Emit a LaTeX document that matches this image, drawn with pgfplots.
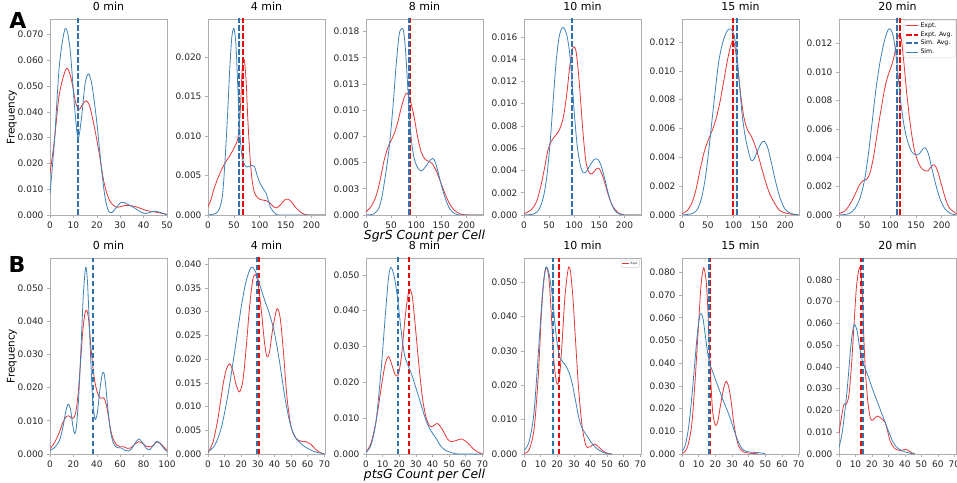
\documentclass[border=0pt]{standalone}
\usepackage{fontspec}
\setmainfont{DejaVu Sans}
\usepackage{pgfplots}
\pgfplotsset{compat=1.18}
\definecolor{simc}{RGB}{62,130,186}
\definecolor{simavg}{RGB}{50,115,175}
\definecolor{exptc}{RGB}{228,55,55}
\definecolor{exptavg}{RGB}{235,10,10}
\definecolor{framec}{RGB}{175,175,175}
\pgfplotsset{
 panel/.style={scale only axis, width=117pt, height=196pt, anchor=south west, xmin=0, ymin=0,
   axis line style={framec, line width=0.8pt},
   every tick/.style={framec, line width=0.6pt},
   tick align=outside, tick pos=left, major tick length=3pt,
   tick label style={font=\fontsize{9}{10}\selectfont, color=black!85},
   yticklabel style={/pgf/number format/.cd, fixed, fixed zerofill, precision=3},
   xticklabel style={/pgf/number format/.cd, fixed, precision=0},
   /pgf/number format/assume math mode=true,
   scaled y ticks=false, scaled x ticks=false,
   title style={font=\fontsize{11}{12}\selectfont, at={(0.5,1)}, anchor=south, inner sep=0pt, yshift=2.5pt},
   label style={font=\fontsize{10.5}{12}\selectfont},
   ylabel shift=-6pt,
   xlabel style={font=\itshape\fontsize{12.4}{14}\selectfont, at={(axis description cs:0.5,0)}, anchor=north, inner sep=0pt, yshift=-15pt},
 },
 expt/.style={exptc, line width=0.8pt, smooth, tension=0.5, no marks},
 sim/.style={simc, line width=0.8pt, smooth, tension=0.5, no marks},
 eavg/.style={exptavg, line width=2pt, dash pattern=on 5.5pt off 2.5pt, no marks},
 savg/.style={simavg, line width=2pt, dash pattern=on 5.5pt off 2.5pt, no marks},
}
\begin{document}
\begin{tikzpicture}
\useasboundingbox (0,0) rectangle (957pt,482pt);
\node[font=\bfseries\fontsize{22}{24}\selectfont] at (18pt,462pt) {A};
\node[font=\bfseries\fontsize{22}{24}\selectfont] at (17pt,218pt) {B};
% ---------------- Row A ----------------
\begin{axis}[panel, at={(50pt,267pt)}, title={0 min}, ylabel={Frequency}, xmax=50, ymax=0.076,
  xtick={0,10,20,30,40,50}, ytick={0,0.01,0.02,0.03,0.04,0.05,0.06,0.07}]
\addplot[expt] coordinates {(0,0.016) (2,0.03) (4,0.047) (7,0.0568) (9,0.053) (11,0.0435) (12.5,0.041) (14,0.043) (15.5,0.0443) (17,0.042) (19,0.034) (21,0.024) (23,0.013) (25,0.0065) (27,0.0038) (29,0.003) (32,0.0037) (35,0.0036) (38,0.0028) (41,0.0018) (44,0.0013) (47,0.0008) (50,0.0002)};
\addplot[eavg] coordinates {(11.8,0) (11.8,0.08)};
\addplot[savg] coordinates {(12,0) (12,0.08)};
\addplot[sim] coordinates {(0,0.008) (2,0.03) (4,0.058) (6.5,0.0723) (8.5,0.065) (10.5,0.042) (12,0.0297) (13.5,0.038) (15,0.051) (16.5,0.0547) (18,0.05) (20,0.036) (22,0.018) (23.5,0.007) (25,0.0015) (26.5,0.001) (28,0.0025) (30.5,0.005) (33,0.0042) (36,0.0028) (39,0.001) (41,0.0006) (43,0.0011) (45,0.0015) (47,0.001) (50,0.0001)};
\end{axis}
\begin{axis}[panel, at={(208pt,267pt)}, title={4 min}, xmax=226, ymax=0.0248,
  xtick={0,50,100,150,200}, ytick={0,0.005,0.01,0.015,0.02}]
\addplot[expt] coordinates {(0,0.001) (6,0.002) (12,0.0034) (20,0.0048) (28,0.006) (36,0.0069) (44,0.0077) (52,0.0087) (57,0.0095) (60,0.011) (63,0.014) (66,0.0185) (68.5,0.0198) (71,0.0192) (74,0.0165) (77,0.012) (81,0.0075) (85,0.0045) (90,0.0028) (97,0.0021) (105,0.0019) (113,0.0018) (120,0.0015) (127,0.001) (133,0.0009) (140,0.0013) (148,0.0019) (155,0.002) (162,0.0016) (170,0.0009) (178,0.0004) (186,0.0001) (195,0) (226,0)};
\addplot[eavg] coordinates {(67,0) (67,0.03)};
\addplot[savg] coordinates {(60.5,0) (60.5,0.03)};
\addplot[sim] coordinates {(0,0) (15,0.0002) (22,0.0008) (28,0.0025) (33,0.007) (38,0.013) (42,0.0185) (46,0.0225) (50,0.0236) (54,0.0215) (58,0.0155) (62,0.01) (66,0.0073) (72,0.0062) (78,0.0061) (85,0.0063) (90,0.0061) (95,0.005) (100,0.0041) (107,0.0033) (112,0.0028) (117,0.0017) (122,0.0008) (130,0.0002) (140,0) (226,0)};
\end{axis}
\begin{axis}[panel, at={(366pt,267pt)}, title={8 min}, xlabel={SgrS Count per Cell},
  xmax=233, ymax=0.0187,
  xtick={0,50,100,150,200}, ytick={0,0.0025,0.005,0.0075,0.01,0.0125,0.015,0.0175},
  yticklabels={0.000,0.003,0.005,0.007,0.010,0.013,0.015,0.018}]
\addplot[expt] coordinates {(0,0.0003) (10,0.0008) (20,0.0018) (28,0.0033) (36,0.0052) (44,0.0065) (52,0.0073) (58,0.008) (64,0.009) (70,0.0102) (76,0.0112) (80,0.0116) (84,0.0115) (90,0.0106) (96,0.0093) (103,0.0074) (110,0.006) (118,0.0053) (126,0.0051) (132,0.0049) (140,0.0042) (148,0.0032) (156,0.0022) (165,0.0012) (175,0.0005) (188,0.0001) (205,0) (233,0)};
\addplot[eavg] coordinates {(88.5,0) (88.5,0.02)};
\addplot[savg] coordinates {(85,0) (85,0.02)};
\addplot[sim] coordinates {(0,0) (15,0.0001) (25,0.0006) (32,0.0018) (40,0.0042) (47,0.0068) (54,0.0105) (60,0.0143) (66,0.0172) (71,0.0178) (75,0.0175) (79,0.0155) (83,0.0123) (87,0.009) (92,0.0065) (97,0.0052) (103,0.0045) (110,0.0042) (117,0.0045) (124,0.005) (133,0.0054) (139,0.0049) (145,0.0038) (152,0.0025) (160,0.0013) (168,0.0005) (178,0.0001) (190,0) (233,0)};
\end{axis}
\begin{axis}[panel, at={(524pt,267pt)}, title={10 min}, xmax=233, ymax=0.0176,
  xtick={0,50,100,150,200}, ytick={0,0.002,0.004,0.006,0.008,0.01,0.012,0.014,0.016}]
\addplot[expt] coordinates {(0,0.0001) (15,0.0005) (25,0.0012) (33,0.0025) (40,0.004) (47,0.0057) (54,0.0066) (62,0.0071) (70,0.0076) (78,0.0087) (85,0.0108) (91,0.0133) (96,0.0148) (100,0.0151) (104,0.0146) (109,0.0125) (114,0.0095) (119,0.0066) (124,0.0046) (130,0.0038) (136,0.0037) (143,0.0041) (149,0.0042) (155,0.0037) (162,0.0027) (170,0.0015) (178,0.0007) (188,0.0002) (200,0) (233,0)};
\addplot[eavg] coordinates {(96,0) (96,0.02)};
\addplot[savg] coordinates {(95,0) (95,0.02)};
\addplot[sim] coordinates {(0,0) (20,0.0001) (30,0.0005) (38,0.0015) (45,0.0033) (52,0.0065) (58,0.0102) (64,0.0138) (70,0.016) (76,0.0168) (81,0.0167) (86,0.016) (91,0.0145) (96,0.0118) (101,0.0087) (106,0.0062) (112,0.0045) (118,0.0038) (124,0.0039) (132,0.0045) (140,0.005) (147,0.005) (153,0.0045) (160,0.0034) (168,0.0019) (176,0.0008) (185,0.0002) (200,0) (233,0)};
\end{axis}
\begin{axis}[panel, at={(682pt,267pt)}, title={15 min}, xmax=227, ymax=0.0136,
  xtick={0,50,100,150,200}, ytick={0,0.002,0.004,0.006,0.008,0.01,0.012}]
\addplot[expt] coordinates {(0,0.0001) (10,0.0003) (20,0.0009) (28,0.0019) (36,0.0033) (44,0.0045) (52,0.0053) (60,0.006) (67,0.0068) (74,0.0079) (81,0.0093) (88,0.0107) (94,0.0117) (99,0.0121) (103,0.0116) (108,0.0102) (114,0.0083) (120,0.0068) (127,0.0059) (134,0.0055) (141,0.0049) (148,0.0041) (155,0.0032) (163,0.0022) (171,0.0014) (180,0.0008) (190,0.0003) (205,0.0001) (227,0)};
\addplot[eavg] coordinates {(99.5,0) (99.5,0.02)};
\addplot[savg] coordinates {(106.5,0) (106.5,0.02)};
\addplot[sim] coordinates {(0,0) (20,0.0001) (30,0.0004) (38,0.0012) (45,0.0025) (52,0.0045) (58,0.0065) (65,0.0088) (72,0.0108) (80,0.0121) (88,0.0128) (95,0.0129) (101,0.0125) (106,0.0113) (111,0.0093) (116,0.0072) (121,0.0058) (127,0.0047) (134,0.0038) (140,0.0039) (147,0.0045) (154,0.005) (160,0.0051) (166,0.0047) (173,0.0037) (181,0.0024) (190,0.0012) (200,0.0004) (212,0.0001) (227,0)};
\end{axis}
\begin{axis}[panel, at={(839pt,267pt)}, title={20 min}, xmax=228, ymax=0.0137,
  xtick={0,50,100,150,200}, ytick={0,0.002,0.004,0.006,0.008,0.01,0.012},
  legend style={at={(0.995,0.995)}, anchor=north east, font=\fontsize{6.2}{7.4}\selectfont,
    draw=gray!35, fill=white, fill opacity=0.8, text opacity=1, rounded corners=1.5pt,
    inner sep=1.4pt, nodes={inner sep=1.3pt}},
  legend cell align=left,
  legend image code/.code={\draw[#1] (0pt,0pt) -- (12pt,0pt);}]
\addplot[expt] coordinates {(0,0.0001) (12,0.0003) (22,0.0008) (32,0.0015) (40,0.0021) (47,0.0024) (54,0.0025) (60,0.0029) (67,0.004) (74,0.0056) (82,0.0074) (90,0.009) (96,0.0098) (102,0.0104) (108,0.0112) (113,0.0122) (117,0.0126) (121,0.0124) (126,0.0108) (132,0.0085) (139,0.0063) (146,0.0047) (153,0.0038) (160,0.0033) (167,0.0031) (174,0.0031) (180,0.0034) (186,0.0035) (192,0.0031) (199,0.0022) (207,0.0012) (215,0.0005) (228,0.0001)};
\addlegendentry{Expt.}
\addplot[eavg] coordinates {(118,0) (118,0.02)};
\addlegendentry{Expt. Avg.}
\addplot[savg] coordinates {(113,0) (113,0.02)};
\addlegendentry{Sim. Avg.}
\addplot[sim] coordinates {(0,0) (20,0.0001) (32,0.0005) (42,0.0013) (50,0.0025) (57,0.0042) (64,0.0063) (72,0.0088) (80,0.0107) (88,0.0121) (95,0.0129) (100,0.013) (105,0.0126) (110,0.0115) (115,0.0098) (121,0.0077) (128,0.006) (135,0.005) (142,0.0044) (150,0.0042) (157,0.0043) (163,0.0046) (168,0.0047) (174,0.0043) (180,0.0034) (188,0.0022) (197,0.0011) (207,0.0004) (218,0.0001) (228,0)};
\addlegendentry{Sim.}
\end{axis}
% ---------------- Row B ----------------
\begin{axis}[panel, at={(50pt,28pt)}, title={0 min}, ylabel={Frequency}, xmax=100, ymax=0.059,
  xtick={0,20,40,60,80,100}, ytick={0,0.01,0.02,0.03,0.04,0.05}]
\addplot[expt] coordinates {(0,0.0015) (4,0.0035) (8,0.0065) (11,0.0095) (14,0.0113) (16,0.0115) (18,0.011) (20,0.0108) (22,0.0125) (24,0.018) (26,0.027) (28,0.037) (30,0.0425) (31.5,0.0432) (33,0.0405) (35,0.032) (37,0.025) (39,0.0205) (41,0.018) (43,0.0168) (46,0.0169) (48,0.015) (50,0.0112) (52,0.007) (54,0.0045) (57,0.0027) (60,0.0022) (63,0.0022) (66,0.0017) (69,0.0018) (72,0.0028) (76,0.0037) (79,0.0032) (82,0.0024) (86,0.0022) (89,0.0028) (91,0.0036) (94,0.0033) (97,0.0022) (100,0.0011)};
\addplot[eavg] coordinates {(37,0) (37,0.07)};
\addplot[savg] coordinates {(36.7,0) (36.7,0.07)};
\addplot[sim] coordinates {(0,0.001) (4,0.002) (8,0.004) (11,0.008) (13.5,0.0128) (15.5,0.015) (17.5,0.0135) (19.5,0.0085) (21,0.0062) (22.5,0.008) (24.5,0.017) (26.5,0.032) (28.5,0.048) (30.5,0.0562) (32,0.052) (33.5,0.04) (35,0.027) (36.5,0.016) (38.5,0.0105) (40.5,0.0125) (42.5,0.019) (44.5,0.0238) (46,0.0245) (47.5,0.021) (49.5,0.0135) (52,0.0062) (55,0.0027) (58,0.0019) (61,0.0018) (64,0.0011) (67,0.0009) (70,0.0017) (73,0.0034) (76,0.0045) (79,0.0035) (82,0.0018) (85,0.0013) (88,0.0024) (91,0.0038) (94,0.0032) (97,0.0018) (100,0.0007)};
\end{axis}
\begin{axis}[panel, at={(208pt,28pt)}, title={4 min}, xmax=70.4, ymax=0.0413,
  xtick={0,10,20,30,40,50,60,70}, ytick={0,0.005,0.01,0.015,0.02,0.025,0.03,0.035,0.04}]
\addplot[expt] coordinates {(0,0.0003) (3,0.0025) (6,0.0075) (9,0.0145) (11,0.0178) (13,0.019) (15,0.0175) (17,0.0145) (19,0.0131) (21,0.0155) (23,0.0225) (25,0.031) (27,0.0368) (28.5,0.0378) (30,0.0362) (32,0.0305) (34,0.0235) (35.5,0.0205) (37,0.0215) (39,0.0265) (41.5,0.0306) (43.5,0.0285) (45.5,0.021) (47.5,0.012) (50,0.0057) (53,0.0033) (56,0.0027) (59,0.0026) (62,0.002) (65,0.0009) (68,0.0002) (70,0)};
\addplot[eavg] coordinates {(30.4,0) (30.4,0.05)};
\addplot[savg] coordinates {(29.4,0) (29.4,0.05)};
\addplot[sim] coordinates {(0,0.0005) (4,0.0018) (8,0.0055) (12,0.0125) (16,0.0215) (20,0.031) (23,0.0365) (26,0.0393) (28.5,0.0385) (31,0.0358) (34,0.0325) (37,0.0295) (40,0.0255) (43,0.0195) (46,0.0125) (49,0.007) (52,0.0038) (55,0.0025) (58,0.0016) (62,0.0008) (66,0.0003) (70,0.0001)};
\end{axis}
\begin{axis}[panel, at={(366pt,28pt)}, title={8 min}, xlabel={ptsG Count per Cell},
  xmax=70.4, ymax=0.0547,
  xtick={0,10,20,30,40,50,60,70}, ytick={0,0.01,0.02,0.03,0.04,0.05}]
\addplot[expt] coordinates {(0,0.0005) (3,0.003) (6,0.009) (9,0.018) (11.5,0.025) (13.5,0.0272) (15.5,0.025) (17.5,0.0222) (19.5,0.0222) (21.5,0.028) (23.5,0.038) (25.5,0.045) (26.5,0.046) (28,0.0435) (30,0.034) (32,0.024) (34,0.0155) (36,0.0105) (38,0.008) (40,0.0077) (43,0.0085) (46,0.0068) (49,0.0042) (51,0.0035) (54,0.0037) (57.5,0.0042) (61,0.0032) (64,0.0017) (67,0.0006) (70,0.0001)};
\addplot[eavg] coordinates {(25.7,0) (25.7,0.06)};
\addplot[savg] coordinates {(19.5,0) (19.5,0.06)};
\addplot[sim] coordinates {(0,0.0005) (3,0.0025) (6,0.009) (9,0.023) (11.5,0.038) (13.5,0.049) (15,0.0521) (17,0.0495) (19,0.0435) (21,0.035) (23,0.028) (25,0.025) (27,0.0228) (30,0.0185) (33,0.014) (36,0.0095) (39,0.0065) (42,0.0045) (45,0.0022) (48,0.001) (52,0.0003) (56,0) (70,0)};
\end{axis}
\begin{axis}[panel, at={(524pt,28pt)}, title={10 min}, xmax=70.4, ymax=0.057,
  xtick={0,10,20,30,40,50,60,70}, ytick={0,0.01,0.02,0.03,0.04,0.05},
  legend style={at={(0.99,0.99)}, anchor=north east, font=\fontsize{2.8}{3.4}\selectfont,
    draw=gray!35, fill=white, fill opacity=0.8, text opacity=1, rounded corners=0.8pt,
    inner sep=1pt, nodes={inner sep=0.8pt}},
  legend image code/.code={\draw[#1] (0pt,0pt) -- (7pt,0pt);}]
\addplot[expt] coordinates {(0,0.0002) (3,0.0012) (6,0.007) (8.5,0.022) (10.5,0.041) (12,0.051) (13.5,0.0542) (15,0.051) (16.5,0.04) (18,0.027) (19.5,0.021) (20.5,0.0205) (21.5,0.023) (23,0.033) (24.5,0.045) (26,0.052) (27,0.0544) (28,0.053) (29.5,0.045) (31,0.033) (33,0.018) (35,0.008) (37,0.0028) (38.5,0.0019) (40,0.0022) (42.5,0.0029) (45,0.002) (48,0.0007) (51,0.0001) (53,0)};
\addlegendentry{Expt.}
\addplot[eavg, forget plot] coordinates {(21,0) (21,0.06)};
\addplot[savg, forget plot] coordinates {(17.3,0) (17.3,0.06)};
\addplot[sim, forget plot] coordinates {(0,0.001) (3,0.0035) (6,0.012) (9,0.032) (11,0.046) (13,0.0541) (15,0.0525) (17,0.046) (19,0.036) (21,0.029) (23,0.027) (25,0.0258) (27,0.0238) (29,0.0205) (31,0.0155) (33,0.0105) (35,0.0075) (38,0.0052) (41,0.003) (44,0.0015) (47,0.0006) (50,0.0001) (53,0)};
\end{axis}
\begin{axis}[panel, at={(682pt,28pt)}, title={15 min}, xmax=70.2, ymax=0.0863,
  xtick={0,10,20,30,40,50,60,70}, ytick={0,0.01,0.02,0.03,0.04,0.05,0.06,0.07,0.08}]
\addplot[expt] coordinates {(0,0.0002) (2,0.0012) (4,0.005) (6,0.014) (8,0.034) (10,0.058) (11.5,0.075) (13,0.0819) (14.5,0.076) (15.5,0.064) (16.5,0.045) (17.5,0.029) (18.5,0.018) (20,0.0126) (21.5,0.0145) (23,0.021) (25,0.029) (26.5,0.032) (28,0.0295) (29.5,0.023) (31,0.014) (32.5,0.0075) (34,0.0035) (36,0.0013) (39,0.0005) (43,0.0002) (46,0)};
\addplot[eavg] coordinates {(16.9,0) (16.9,0.09)};
\addplot[savg] coordinates {(16.3,0) (16.3,0.09)};
\addplot[sim] coordinates {(0,0.001) (2,0.004) (4,0.012) (6,0.026) (8,0.043) (9.5,0.055) (11,0.0618) (12.5,0.06) (14,0.052) (15.5,0.044) (17,0.039) (19,0.035) (21,0.031) (23,0.027) (25,0.023) (27,0.0195) (29,0.0155) (31,0.011) (33,0.0068) (35,0.0035) (37,0.0017) (40,0.0009) (44,0.0007) (48,0.0004) (50,0)};
\end{axis}
\begin{axis}[panel, at={(839pt,28pt)}, title={20 min}, xmax=71, ymax=0.09,
  xtick={0,10,20,30,40,50,60,70}, ytick={0,0.01,0.02,0.03,0.04,0.05,0.06,0.07,0.08}]
\addplot[expt] coordinates {(0,0.0095) (1.5,0.017) (3,0.0228) (4.5,0.023) (6,0.027) (7.5,0.04) (9,0.058) (10.5,0.076) (12,0.0845) (13,0.0849) (14,0.076) (15,0.055) (16,0.038) (17.5,0.024) (19,0.0165) (20.5,0.0155) (22,0.0168) (23.5,0.0174) (25,0.0168) (26.5,0.0158) (28,0.0145) (29.5,0.0105) (31,0.006) (33,0.0032) (35,0.002) (37,0.0016) (39,0.0019) (40.5,0.0022) (42,0.0017) (44,0.0006) (46,0.0001)};
\addplot[eavg] coordinates {(13.3,0) (13.3,0.1)};
\addplot[savg] coordinates {(14.4,0) (14.4,0.1)};
\addplot[sim] coordinates {(0,0.003) (1.5,0.008) (3,0.016) (5,0.03) (7,0.048) (8.5,0.0575) (9.5,0.0595) (11,0.0565) (12.5,0.049) (14,0.0435) (16,0.039) (18,0.035) (20,0.0305) (22,0.0265) (24,0.0225) (26,0.0185) (28,0.0145) (30,0.0105) (32,0.0068) (34,0.004) (36,0.0025) (38,0.0015) (41,0.0008) (44,0.0002) (46,0)};
\end{axis}
\end{tikzpicture}
\end{document}
